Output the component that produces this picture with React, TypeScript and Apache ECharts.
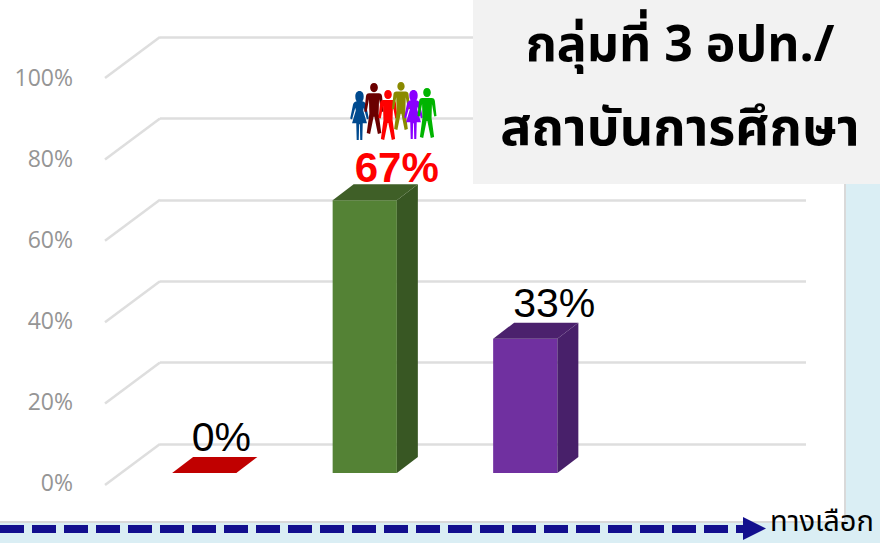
import React, { useEffect, useRef } from "react";
import * as echarts from "echarts";

const categories = ["ก", "ข", "ค", "ง"];
const values = [0, 67, 33];
const ticks = [0, 20, 40, 60, 80, 100];
const titleLines = ["กลุ่มที่ 3 อปท./", "สถาบันการศึกษา"];
const axisName = "ทางเลือก";

const barStyles = [
  { front: "#C00000", side: "#A00000", top: "#C00000", label: "#000000", weight: "normal", dx: 17, dy: -16 },
  { front: "#548235", side: "#385723", top: "#3F5F27", label: "#FF0000", weight: "bold", dx: 32, dy: -12 },
  { front: "#7030A0", side: "#48206A", top: "#4B216D", label: "#000000", weight: "normal", dx: 29, dy: -15 },
];

const people = [
  { shape: "female", color: "#004A8F", x: 359.5, top: 91, h: 49 },
  { shape: "male", color: "#6B0000", x: 374, top: 83, h: 51 },
  { shape: "male", color: "#FF0000", x: 388, top: 90, h: 50 },
  { shape: "male", color: "#8A8A00", x: 401, top: 82, h: 48 },
  { shape: "female", color: "#8A00FF", x: 413.5, top: 90, h: 49 },
  { shape: "male", color: "#00B400", x: 427, top: 88, h: 50 },
];

const MALE =
  "M10 0C12.5 0 14 2 14 4.5C14 7 12.5 9 10 9C7.5 9 6 7 6 4.5C6 2 7.5 0 10 0Z" +
  "M5 10L15 10C17 10 18 11 18.3 13L20 28L17.6 28.5L15.2 16L14.8 30L17.5 49L14 50L10.4 33L9.6 33L6 50L2.5 49L5.2 30L4.8 16L2.4 28.5L0 28L1.7 13C2 11 3 10 5 10Z";
const FEMALE =
  "M10 0C13 0 14.5 2.5 14.5 5.5C14.5 8.5 13.5 10 13 10.5C15.5 11 16.5 12 17 14L20 28L18 29L14.5 17L14 20L18 33L13.5 33L13 50L10.8 50L10.4 34L9.6 34L9.2 50L7 50L6.5 33L2 33L6 20L5.5 17L2 29L0 28L3 14C3.5 12 4.5 11 7 10.5C6.5 10 5.5 8.5 5.5 5.5C5.5 2.5 7 0 10 0Z";

echarts.graphic.registerShape("male", echarts.graphic.extendPath(MALE, {}) as any);
echarts.graphic.registerShape("female", echarts.graphic.extendPath(FEMALE, {}) as any);

const THAI = "'Noto Sans Thai','Noto Sans','Liberation Sans',sans-serif";
const BAR_DX = 21;
const BAR_DY = -16;
const FLOOR_DX = -55;
const FLOOR_DY = 41;
const WALL_LEFT = 160;

export default function App() {
  const ref = useRef<HTMLDivElement>(null);
  useEffect(() => {
    const chart = echarts.init(ref.current!, undefined, { renderer: "svg" });
    const hiddenX = { type: "category", data: categories, show: false };
    chart.setOption({
      animation: false,
      grid: [
        { left: WALL_LEFT, right: 74, top: 37, height: 407 },
        { left: 124, width: 642, top: 66, height: 407 },
        { left: 124, width: 642, top: 77, height: 405 },
      ],
      xAxis: [
        { ...hiddenX, gridIndex: 0 },
        { ...hiddenX, gridIndex: 1 },
        { ...hiddenX, gridIndex: 2 },
      ],
      yAxis: [
        {
          gridIndex: 0, type: "value", min: 0, max: 100, interval: 20,
          axisLine: { show: false }, axisTick: { show: false }, axisLabel: { show: false },
          splitLine: { show: true, lineStyle: { color: "#DEDEDE", width: 2.5 } },
        },
        { gridIndex: 1, type: "value", min: 0, max: 100, interval: 20, show: false },
        {
          gridIndex: 2, type: "value", min: 0, max: 100, interval: 20,
          axisLine: { show: false }, axisTick: { show: false }, splitLine: { show: false },
          axisLabel: { margin: 51, color: "#959595", fontSize: 23, fontFamily: "Open Sans", formatter: "{value}%" },
        },
      ],
      series: [
        {
          type: "custom", xAxisIndex: 0, yAxisIndex: 0, silent: true, clip: false, z: 1,
          data: ticks.map((t) => [0, t]),
          renderItem: (_p: any, api: any) => {
            const y = api.coord([0, api.value(1)])[1];
            return {
              type: "line",
              shape: { x1: WALL_LEFT, y1: y, x2: WALL_LEFT + FLOOR_DX, y2: y + FLOOR_DY },
              style: { stroke: "#DEDEDE", lineWidth: 2.5 },
            };
          },
        },
        {
          type: "custom", xAxisIndex: 1, yAxisIndex: 1, silent: true, clip: false, z: 3,
          data: values.map((v, i) => [i, v]),
          renderItem: (p: any, api: any) => {
            const i = api.value(0);
            const v = api.value(1);
            const [cx, topY] = api.coord([i, v]);
            const baseY = api.coord([i, 0])[1];
            const w = api.size([1, 0])[0] * 0.4;
            const l = cx - w / 2;
            const r = cx + w / 2;
            const s = barStyles[p.dataIndex];
            const children: any[] = [];
            if (v > 0) {
              children.push({ type: "polygon", shape: { points: [[l, topY], [r, topY], [r, baseY], [l, baseY]] }, style: { fill: s.front } });
              children.push({ type: "polygon", shape: { points: [[r, topY], [r + BAR_DX, topY + BAR_DY], [r + BAR_DX, baseY + BAR_DY], [r, baseY]] }, style: { fill: s.side } });
            }
            children.push({ type: "polygon", shape: { points: [[l, topY], [r, topY], [r + BAR_DX, topY + BAR_DY], [l + BAR_DX, topY + BAR_DY]] }, style: { fill: s.top } });
            children.push({
              type: "text", z2: 5,
              x: cx + s.dx, y: topY + s.dy,
              style: {
                text: `${v}%`, fill: s.label, fontSize: p.dataIndex === 1 ? 42 : 41, fontWeight: s.weight,
                fontFamily: "Liberation Sans", textAlign: "center", textVerticalAlign: "bottom",
              },
            });
            return { type: "group", children };
          },
        },
      ],
      graphic: {
        elements: [
          { type: "rect", z: -20, silent: true, shape: { x: 0, y: 0, width: 880, height: 543 }, style: { fill: "#DAEEF4" } },
          { type: "rect", z: -19, silent: true, shape: { x: 0, y: 0, width: 846, height: 523 }, style: { fill: "#D9D9D9" } },
          { type: "rect", z: -18, silent: true, shape: { x: 0, y: 0, width: 844, height: 521 }, style: { fill: "#FFFFFF" } },
          { type: "rect", z: 10, silent: true, shape: { x: 473, y: 0, width: 407, height: 184 }, style: { fill: "#F2F2F2" } },
          { type: "text", z: 11, silent: true, x: 680, y: 46, style: { text: titleLines[0], fontSize: 50, fontWeight: "bold", fontFamily: THAI, fill: "#000", textAlign: "center", textVerticalAlign: "middle" } },
          { type: "text", z: 11, silent: true, x: 680, y: 129, style: { text: titleLines[1], fontSize: 52, fontWeight: "bold", fontFamily: THAI, fill: "#000", textAlign: "center", textVerticalAlign: "middle" } },
          { type: "line", z: 12, silent: true, shape: { x1: 0, y1: 529, x2: 744, y2: 529 }, style: { stroke: "#130F8E", lineWidth: 8, lineDash: [24, 8] } },
          { type: "polygon", z: 12, silent: true, shape: { points: [[743, 517], [766, 528.5], [743, 540]] }, style: { fill: "#130F8E" } },
          { type: "text", z: 12, silent: true, x: 770, y: 522, style: { text: axisName, fontSize: 29, fontFamily: THAI, fill: "#000", textAlign: "left", textVerticalAlign: "middle" } },
          ...people.map((p) => ({
            type: p.shape, z: 9, silent: true,
            x: p.x - (p.h / 50) * 10 * 0.95, y: p.top,
            scaleX: (p.h / 50) * 0.95, scaleY: p.h / 50,
            style: { fill: p.color },
          })),
        ],
      },
    } as any);
    return () => chart.dispose();
  }, []);
  return <div ref={ref} style={{ position: "absolute", left: 0, top: 0, width: 880, height: 543 }} />;
}
